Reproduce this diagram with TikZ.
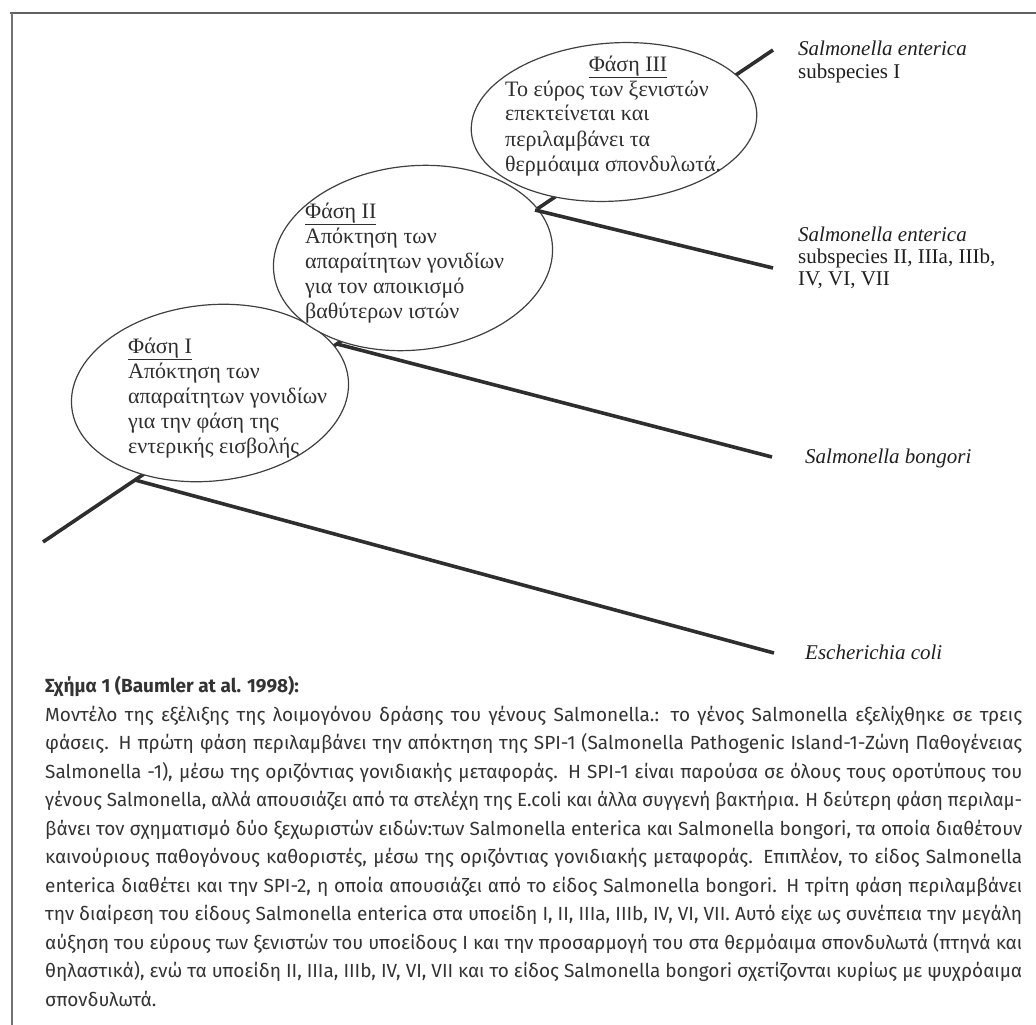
\documentclass[tikz,border=0pt]{standalone}
\usepackage{fontspec}
\usepackage{graphicx}
\setmainfont{Liberation Serif}
\newfontfamily\capfont{Fira Sans}
\usetikzlibrary{shapes.geometric}
\newlength\capw
\setlength\capw{977pt}
\newcommand\capline[1]{\spaceskip=0.25em plus 1em minus 0.06em\relax\setbox0\hbox{#1}\ifdim\wd0>\capw\resizebox{\capw}{\height}{#1}\else\hbox to\capw{#1}\fi}
\newcommand\capsetup{\capfont\fontsize{19}{28}\selectfont}
\tikzset{
  frameline/.style={draw=black!55, line width=1.4pt},
  stem/.style={draw=black!82, line width=3.6pt},
  branch/.style={draw=black!82, line width=3.6pt},
  phase/.style={ellipse, draw=black!75, line width=1.2pt, fill=white, inner sep=0pt},
  etext/.style={font=\fontsize{22}{25}\selectfont, text=black!82, inner sep=0pt, anchor=base west},
  lab/.style={font=\fontsize{21}{22}\selectfont, text=black!88, inner sep=0pt, anchor=base west},
  captext/.style={font=\capsetup, text=black!80, inner sep=0pt, anchor=base west}
}
\begin{document}
\begin{tikzpicture}[x=1pt,y=-1pt]
\useasboundingbox (0,0) rectangle (1036,1025);
\fill[white] (0,0) rectangle (1036,1025);
% frame
\coordinate (fTL) at (12,13);
\coordinate (fTLs) at (10,13);
\coordinate (fTR) at (1036,13);
\coordinate (fBL) at (12,1025);
\draw[frameline, draw=black!62, line width=1.6pt] (fTLs) -- (fTR);
\draw[frameline] (fTL) -- (fBL);
% tree coordinates
\coordinate (root) at (43,542);
\coordinate (tipI) at (773,50);
\coordinate (J1) at (135,480);
\coordinate (J2) at (337,344);
\coordinate (J3) at (535,210);
\coordinate (tipII) at (773,268);
\coordinate (tipB) at (772,457);
\coordinate (tipE) at (774,653);
% stem
\draw[stem] (root) -- (tipI);
% phases
\node[phase, minimum width=278pt, minimum height=176pt, rotate=6] (e1) at (210,393) {};
\node[phase, minimum width=280pt, minimum height=184pt, rotate=6] (e2) at (413,258) {};
\node[phase, minimum width=286pt, minimum height=158pt, rotate=4] (e3) at (614,122) {};
% branches
\draw[branch] (J1) -- (tipE);
\draw[branch] (J2) -- (tipB);
\draw[branch] (J3) -- (tipII);
% phase I text
\node[etext] (p1t) at (128,353) {\underline{Φάση I}};
\node[etext] (p1a) at (128,378) {Απόκτηση των};
\node[etext] (p1b) at (128,403) {απαραίτητων γονιδίων};
\node[etext] (p1c) at (128,428) {για την φάση της};
\node[etext] (p1d) at (128,453) {εντερικής εισβολής};
% phase II text
\node[etext] (p2t) at (305,218) {\underline{Φάση II}};
\node[etext] (p2a) at (305,243) {Απόκτηση των};
\node[etext] (p2b) at (305,268) {απαραίτητων γονιδίων};
\node[etext] (p2c) at (305,293) {για τον αποικισμό};
\node[etext] (p2d) at (305,318) {βαθύτερων ιστών};
% phase III text
\node[etext, anchor=base] (p3t) at (628,71) {\underline{Φάση III}};
\node[etext] (p3a) at (505,96) {Το εύρος των ξενιστών};
\node[etext] (p3b) at (505,121) {επεκτείνεται και};
\node[etext] (p3c) at (505,146) {περιλαμβάνει τα};
\node[etext] (p3d) at (505,171) {θερμόαιμα σπονδυλωτά.};
% leaf labels
\node[lab] (l1a) at (798,56) {\itshape Salmonella enterica};
\node[lab] (l1b) at (798,78) {subspecies I};
\node[lab] (l2a) at (798,241) {\itshape Salmonella enterica};
\node[lab] (l2b) at (798,263) {subspecies II, IIIa, IIIb,};
\node[lab] (l2c) at (798,285) {IV, VI, VII};
\node[lab] (l3) at (805,463) {\itshape Salmonella bongori};
\node[lab] (l4) at (805,659) {\itshape Escherichia coli};
% caption
\node[captext] (c0) at (45,692.5) {\bfseries Σχήμα 1 (Baumler at al. 1998):};
\node[captext] (c1) at (45,721) {\capline{Μοντέλο της εξέλιξης της λοιμογόνου δράσης του γένους Salmonella.: το γένος Salmonella εξελίχθηκε σε τρεις}};
\node[captext] (c2) at (45,749.5) {\capline{φάσεις. Η πρώτη φάση περιλαμβάνει την απόκτηση της SPI-1 (Salmonella Pathogenic Island-1-Ζώνη Παθογένειας}};
\node[captext] (c3) at (45,778) {\capline{Salmonella -1), μέσω της οριζόντιας γονιδιακής μεταφοράς. Η SPI-1 είναι παρούσα σε όλους τους οροτύπους του}};
\node[captext] (c4) at (45,806.5) {\capline{γένους Salmonella, αλλά απουσιάζει από τα στελέχη της E.coli και άλλα συγγενή βακτήρια. Η δεύτερη φάση περιλαμ-}};
\node[captext] (c5) at (45,835) {\capline{βάνει τον σχηματισμό δύο ξεχωριστών ειδών:των Salmonella enterica και Salmonella bongori, τα οποία διαθέτουν}};
\node[captext] (c6) at (45,863.5) {\capline{καινούριους παθογόνους καθοριστές, μέσω της οριζόντιας γονιδιακής μεταφοράς. Επιπλέον, το είδος Salmonella}};
\node[captext] (c7) at (45,892) {\capline{enterica διαθέτει και την SPI-2, η οποία απουσιάζει από το είδος Salmonella bongori. Η τρίτη φάση περιλαμβάνει}};
\node[captext] (c8) at (45,920.5) {\capline{την διαίρεση του είδους Salmonella enterica στα υποείδη I, II, IIIa, IIIb, IV, VI, VII. Αυτό είχε ως συνέπεια την μεγάλη}};
\node[captext] (c9) at (45,949) {\capline{αύξηση του εύρους των ξενιστών του υποείδους I και την προσαρμογή του στα θερμόαιμα σπονδυλωτά (πτηνά και}};
\node[captext] (c10) at (45,977.5) {\capline{θηλαστικά), ενώ τα υποείδη II, IIIa, IIIb, IV, VI, VII και το είδος Salmonella bongori σχετίζονται κυρίως με ψυχρόαιμα}};
\node[captext] (c11) at (45,1006) {σπονδυλωτά.};
\end{tikzpicture}
\end{document}
